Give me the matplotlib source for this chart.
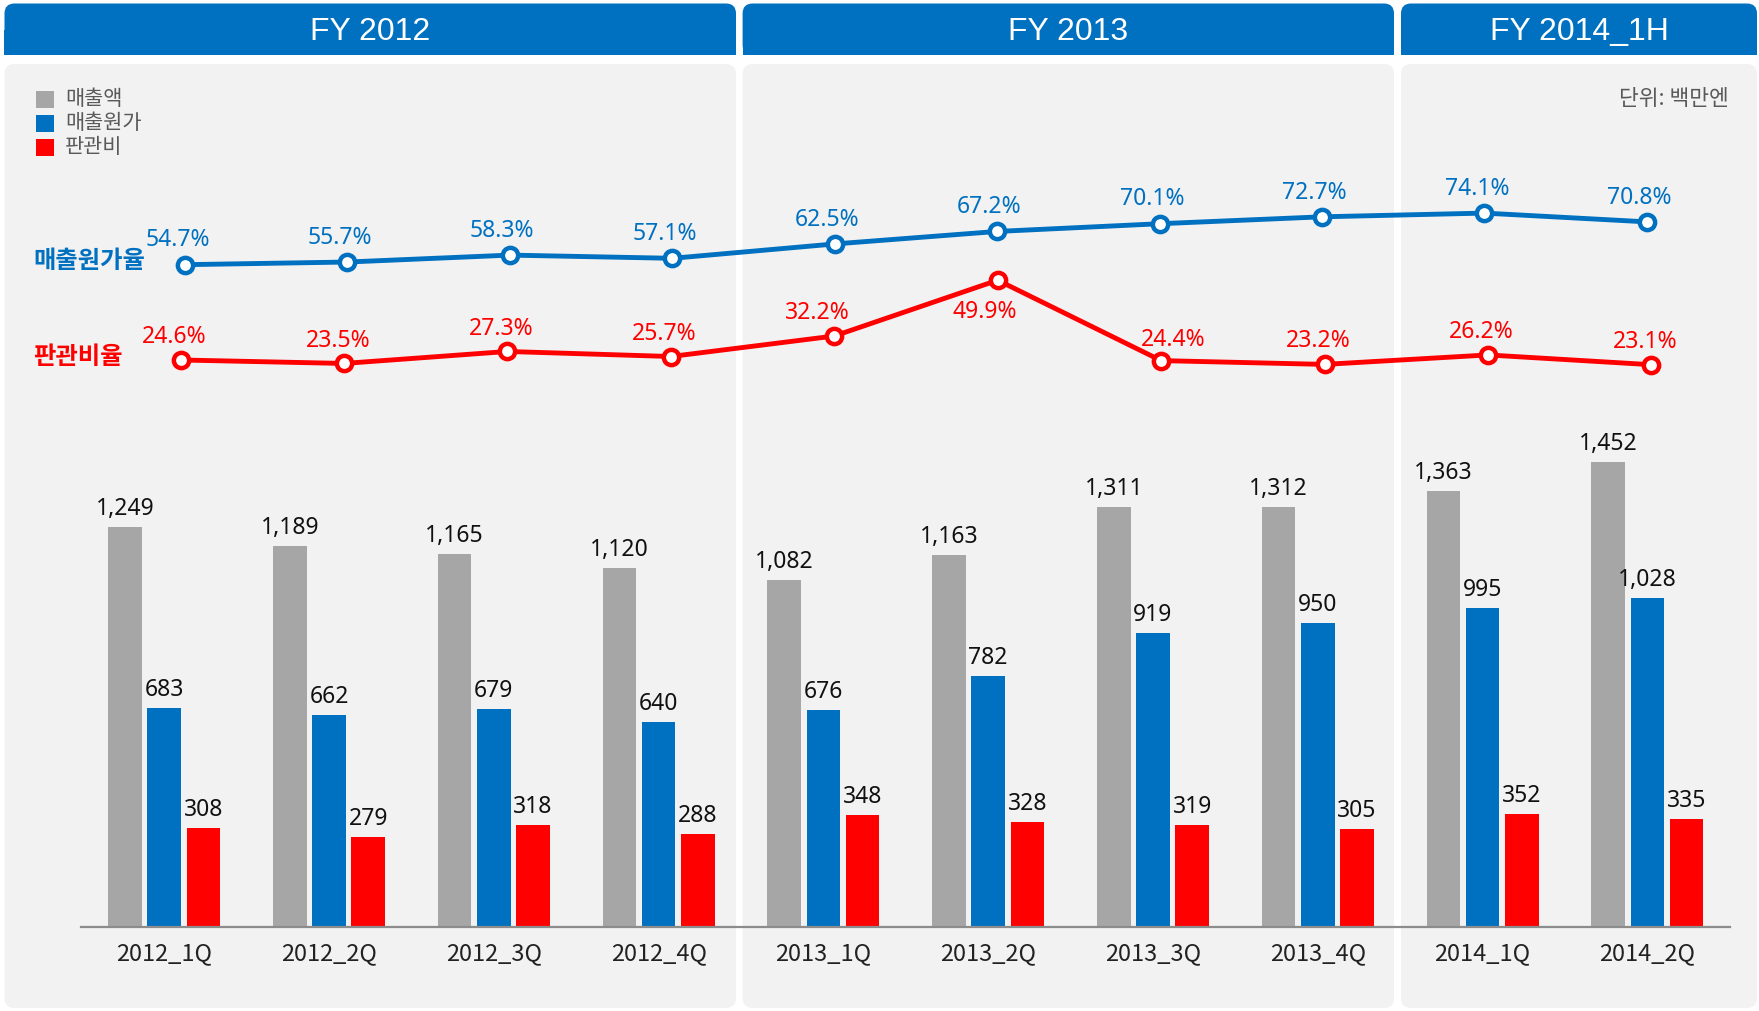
import numpy as np
import matplotlib.pyplot as plt
from matplotlib.patches import FancyBboxPatch, Rectangle

plt.rcParams['font.family'] = ['Noto Sans CJK KR', 'DejaVu Sans']

quarters = ['2012_1Q', '2012_2Q', '2012_3Q', '2012_4Q',
            '2013_1Q', '2013_2Q', '2013_3Q', '2013_4Q',
            '2014_1Q', '2014_2Q']
sales = [1249, 1189, 1165, 1120, 1082, 1163, 1311, 1312, 1363, 1452]
cogs = [683, 662, 679, 640, 676, 782, 919, 950, 995, 1028]
sga = [308, 279, 318, 288, 348, 328, 319, 305, 352, 335]
cogs_ratio = [54.7, 55.7, 58.3, 57.1, 62.5, 67.2, 70.1, 72.7, 74.1, 70.8]
sga_ratio = [24.6, 23.5, 27.3, 25.7, 32.2, 49.9, 24.4, 23.2, 26.2, 23.1]
years = ['FY 2012', 'FY 2013', 'FY 2014_1H']
series_names = ['매출액', '매출원가', '판관비']
ratio_names = ['매출원가율', '판관비율']
unit_text = '단위: 백만엔'

GRAY = '#a6a6a6'
BLUE = '#0070c0'
RED = '#ff0000'
PANEL = '#f2f2f2'
NUM_FONT = ['Noto Sans', 'DejaVu Sans']

W, H = 1759, 1011


def rect(l, t, r, b):
    return [l / W, 1 - b / H, (r - l) / W, (b - t) / H]


fig = plt.figure(figsize=(W / 100, H / 100), dpi=100)
fig.patch.set_facecolor('white')

# background: panels, headers, legend (pixel coords)
bg = fig.add_axes([0, 0, 1, 1])
bg.set_xlim(0, W)
bg.set_ylim(H, 0)
bg.axis('off')

panel_edges = [(4.5, 736), (742.6, 1394), (1401, 1757)]
for (l, r), yr in zip(panel_edges, years):
    bg.add_patch(FancyBboxPatch((l + 10, 64 + 10), r - l - 20, 1008 - 64 - 20,
                                boxstyle='round,pad=10', fc=PANEL, ec='none'))
    bg.add_patch(FancyBboxPatch((l + 10, 3.5 + 10), r - l - 20, 55 - 3.5 - 20,
                                boxstyle='round,pad=10', fc=BLUE, ec='none'))
    bg.add_patch(Rectangle((l, 30), r - l, 25, fc=BLUE, ec='none'))
    bg.text((l + r) / 2, 32, yr, color='white', fontsize=23,
            family=['Liberation Sans', 'DejaVu Sans'], ha='center', va='center')

for i, (name, c) in enumerate(zip(series_names, [GRAY, BLUE, RED])):
    y = 99 + i * 24
    bg.add_patch(Rectangle((36, y - 8.5), 18, 17, fc=c, ec='none'))
    bg.text(65, y, name, fontsize=15, color='#595959', va='center')

bg.text(1729, 99, unit_text, fontsize=15.5, color='#595959', ha='right', va='center')
bg.text(33, 261, ratio_names[0], fontsize=17.5, color=BLUE, weight='bold', va='center')
bg.text(33, 357, ratio_names[1], fontsize=17.5, color=RED, weight='bold', va='center')

# bars
ax = fig.add_axes(rect(80.8, 63.9, 1729.8, 926.6))
ax.patch.set_alpha(0)
x = np.arange(len(quarters))
bw = 0.204
step = 0.238
for off, vals, c in [(-step, sales, GRAY), (0, cogs, BLUE), (step, sga, RED)]:
    bars = ax.bar(x + off, vals, width=bw, color=c)
    for b, v in zip(bars, vals):
        ax.annotate(f'{v:,}', (b.get_x() + b.get_width() / 2, v),
                    xytext=(0, 13), textcoords='offset points', family=NUM_FONT,
                    ha='center', va='center', fontsize=16.5, color='#111111')
ax.set_xlim(-0.5065, 9.5)
ax.set_ylim(0, 2697)
ax.set_xticks(x)
ax.set_xticklabels(quarters, fontsize=17, color='#222222')
ax.tick_params(axis='x', length=0, pad=11)
ax.set_yticks([])
for s in ['top', 'right', 'left']:
    ax.spines[s].set_visible(False)
ax.spines['bottom'].set_color('#8c8c8c')
ax.spines['bottom'].set_linewidth(1.6)

# ratio lines
def ratio_axes(xlim, ylim):
    a = fig.add_axes(rect(80.8, 63.9, 1729.8, 926.6))
    a.patch.set_alpha(0)
    a.set_xlim(*xlim)
    a.set_ylim(*ylim)
    a.axis('off')
    return a


axb = ratio_axes((-0.642, 9.511), (-194.2, 130.2))
axb.plot(x, cogs_ratio, color=BLUE, lw=3.5, marker='o', ms=11,
         mfc='white', mec=BLUE, mew=3.2)
for xi, v in zip(x, cogs_ratio):
    axb.annotate(f'{v}%', (xi, v), xytext=(-5.5, 17.5), textcoords='offset points',
                 ha='center', va='center', fontsize=16.5, color=BLUE, family=NUM_FONT)

axr = ratio_axes((-0.611, 9.480), (-155.1, 118.5))
axr.plot(x, sga_ratio, color=RED, lw=3.5, marker='o', ms=11,
         mfc='white', mec=RED, mew=3.2)
red_offsets = {4: (-12, 16.5), 5: (-9, -23), 6: (9, 15)}
for i, (xi, v) in enumerate(zip(x, sga_ratio)):
    dx, dy = red_offsets.get(i, (-4.5, 16.5))
    axr.annotate(f'{v}%', (xi, v), xytext=(dx, dy), textcoords='offset points',
                 ha='center', va='center', fontsize=16.5, color=RED, family=NUM_FONT)

fig.savefig('out.png', dpi=100)
